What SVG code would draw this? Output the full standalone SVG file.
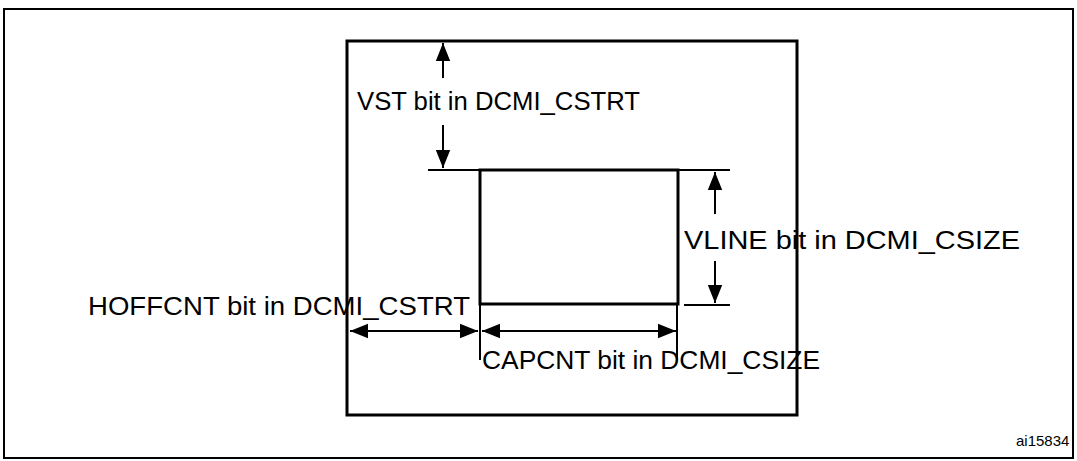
<svg xmlns="http://www.w3.org/2000/svg" width="1077" height="461" viewBox="0 0 1077 461">
<style>
.t{font-family:"Liberation Sans",Arial,sans-serif;font-size:25px;fill:#000}
.s{font-family:"Liberation Sans",Arial,sans-serif;font-size:15px;fill:#000}
.l{stroke:#000;stroke-width:2;fill:none}
.b{stroke:#000;stroke-width:3;fill:none}
</style>
<defs>
<marker id="a" viewBox="0 0 10 10" refX="10" refY="5" markerWidth="9" markerHeight="9" orient="auto-start-reverse" markerUnits="strokeWidth"><path d="M0,1 L10,5 L0,9 z" fill="#000"/></marker>
</defs>
<rect x="4" y="9" width="1069" height="449" fill="#fff" stroke="#000" stroke-width="2"/>
<g id="frame"><rect class="b" x="347" y="41" width="450" height="374"/></g>
<g id="window"><rect class="b" x="480" y="170" width="198" height="134"/></g>
<g id="connectors">
<line class="l" x1="428" y1="170" x2="480" y2="170"/>
<line class="l" x1="678" y1="170" x2="730" y2="170"/>
<line class="l" x1="684" y1="305" x2="730" y2="305"/>
<line class="l" x1="480" y1="304" x2="480" y2="360"/>
<line class="l" x1="677" y1="304" x2="677" y2="360"/>
<line class="l" x1="443" y1="78" x2="443" y2="43" marker-end="url(#a)"/>
<line class="l" x1="443" y1="125" x2="443" y2="168" marker-end="url(#a)"/>
<line class="l" x1="715" y1="214" x2="715" y2="172" marker-end="url(#a)"/>
<line class="l" x1="715" y1="261" x2="715" y2="303" marker-end="url(#a)"/>
<line class="l" x1="350" y1="331" x2="478" y2="331" marker-start="url(#a)" marker-end="url(#a)"/>
<line class="l" x1="482" y1="331" x2="676" y2="331" marker-start="url(#a)" marker-end="url(#a)"/>
</g>
<g id="labels">
<text class="t" x="357" y="110" textLength="283" lengthAdjust="spacingAndGlyphs">VST bit in DCMI_CSTRT</text>
<text class="t" x="684" y="249" textLength="336" lengthAdjust="spacingAndGlyphs">VLINE bit in DCMI_CSIZE</text>
<text class="t" x="88" y="315" textLength="382" lengthAdjust="spacingAndGlyphs">HOFFCNT bit in DCMI_CSTRT</text>
<text class="t" x="482" y="369" textLength="338" lengthAdjust="spacingAndGlyphs">CAPCNT bit in DCMI_CSIZE</text>
<text class="s" x="1016" y="446">ai15834</text>
</g>
</svg>
